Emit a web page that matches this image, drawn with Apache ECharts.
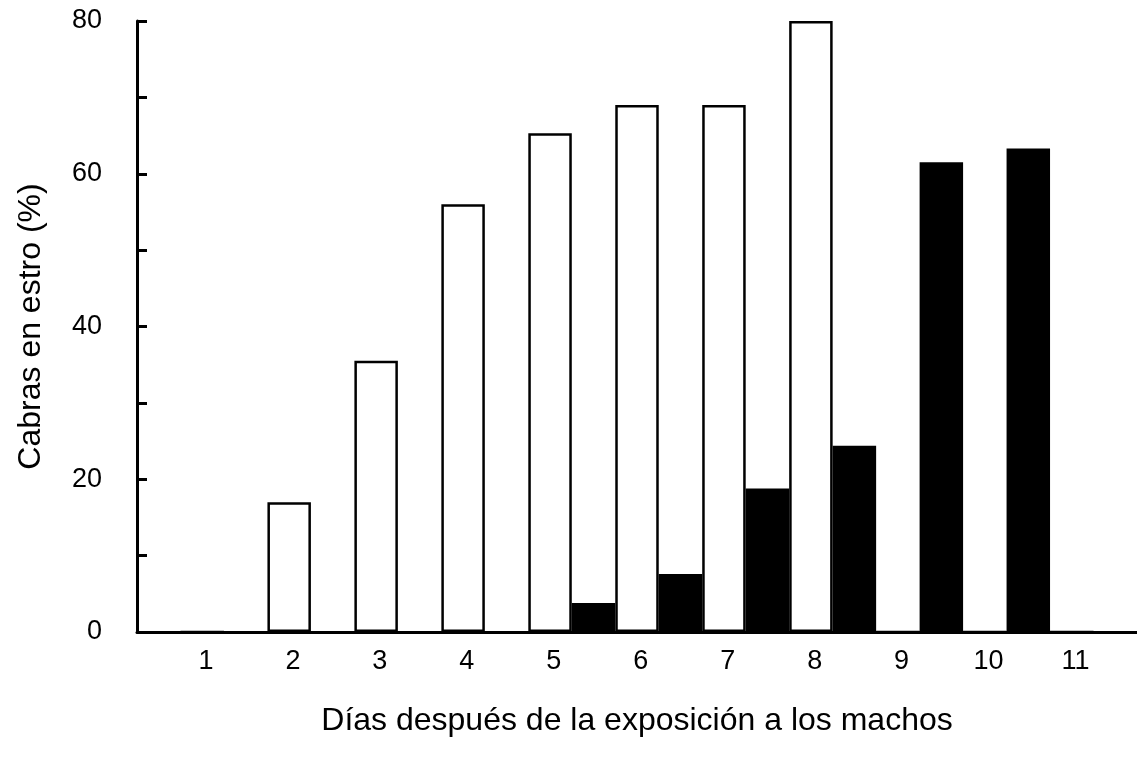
<!DOCTYPE html>
<html><head><meta charset="utf-8">
<script src="https://cdn.jsdelivr.net/npm/echarts@6/dist/echarts.min.js"></script>
<style>html,body{margin:0;padding:0;background:#fff}#c{width:1137px;height:763px}</style>
</head><body><div id="c"></div>
<script>
const categories = ['1','2','3','4','5','6','7','8','9','10','11'];
const openBars = [0, 17, 35.5, 56, 65.3, 69, 69, 80, 0, 0, 0];
const filledBars = [0, 0, 0, 0, 3.8, 7.6, 18.8, 24.4, 61.5, 63.3, 0];
const yTickLabels = [0, 20, 40, 60, 80];
const xTitle = 'Días después de la exposición a los machos';
const yTitle = 'Cabras en estro (%)';

const FONT = "'Liberation Sans', Arial, sans-serif";
const pos = categories.map((c, i) => i + 1);

const chart = echarts.init(document.getElementById('c'), null, {renderer: 'canvas'});
chart.setOption({
  backgroundColor: '#fff',
  animation: false,
  grid: {left: 137, right: 0, top: 21, bottom: 131, containLabel: false},
  xAxis: {
    type: 'value', min: 0, max: 11.5,
    splitLine: {show: false},
    axisTick: {show: false},
    axisLine: {lineStyle: {color: '#000', width: 3}},
    axisLabel: {
      customValues: pos,
      formatter: v => categories[Math.round(v) - 1] || '',
      color: '#000', fontSize: 27, fontFamily: FONT,
      margin: 16, padding: [0, 36, 0, 0]
    },
    name: xTitle, nameLocation: 'middle', nameGap: 73,
    nameTextStyle: {color: '#000', fontSize: 32, fontFamily: FONT}
  },
  yAxis: {
    type: 'value', min: 0, max: 80, interval: 10,
    splitLine: {show: false},
    axisLine: {show: true, lineStyle: {color: '#000', width: 3}},
    axisTick: {show: true, inside: true, length: 10, lineStyle: {color: '#000', width: 3}},
    axisLabel: {
      color: '#000', fontSize: 27, fontFamily: FONT, margin: 35,
      formatter: v => yTickLabels.includes(v) ? String(v) : ''
    },
    name: yTitle, nameLocation: 'middle', nameGap: 90,
    nameTextStyle: {color: '#000', fontSize: 32, fontFamily: FONT}
  },
  series: [
    {
      type: 'bar', name: 'open',
      data: pos.map((x, i) => [x, openBars[i]]),
      barGap: '0%', barCategoryGap: '0%',
      itemStyle: {color: '#fff', borderColor: '#000', borderWidth: 2.5}
    },
    {
      type: 'bar', name: 'filled',
      data: pos.map((x, i) => [x, filledBars[i]]),
      barGap: '0%', barCategoryGap: '0%',
      itemStyle: {color: '#000'}
    }
  ]
});
</script></body></html>
